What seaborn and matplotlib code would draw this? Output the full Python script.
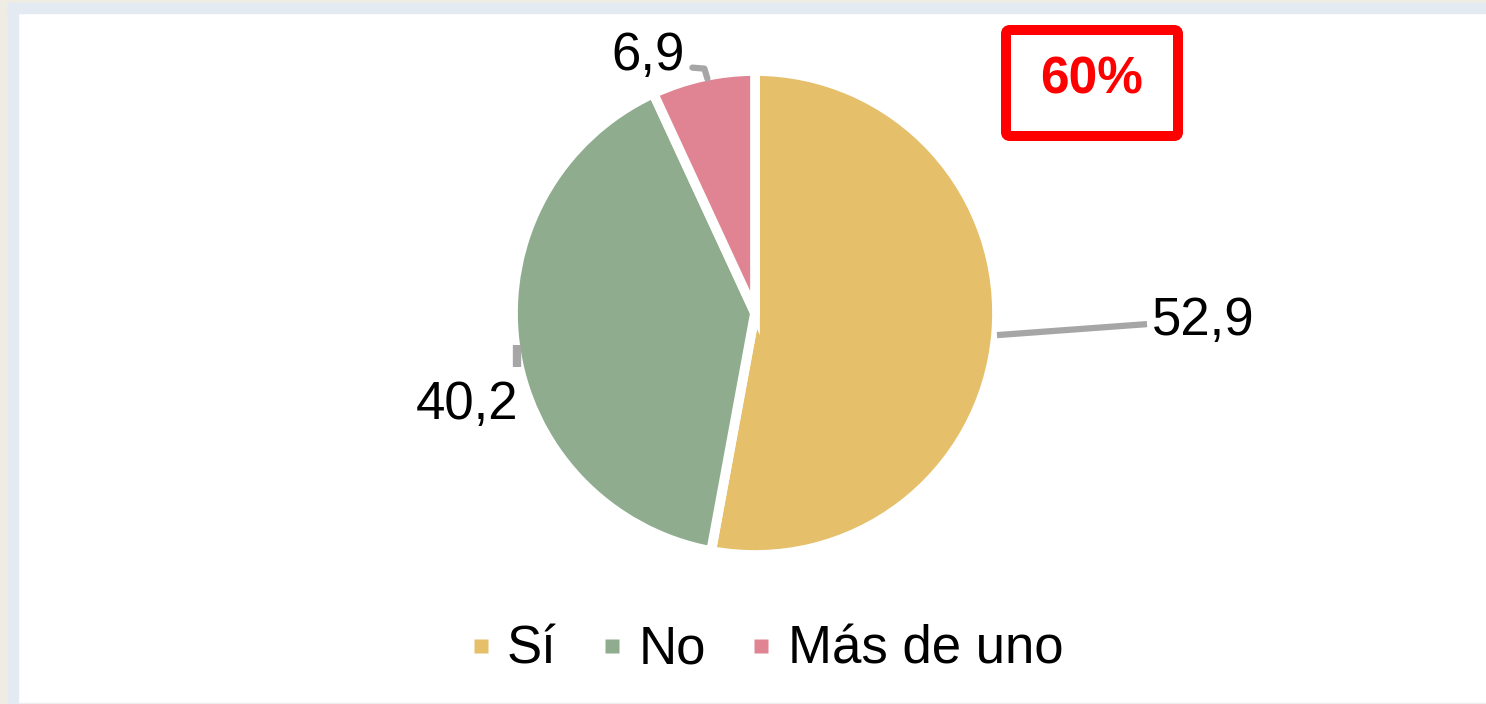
import numpy as np
import matplotlib
matplotlib.use("Agg")
import matplotlib.pyplot as plt
from matplotlib.patches import Rectangle, FancyBboxPatch
from matplotlib.lines import Line2D
import seaborn as sns

categories = ["Sí", "No", "Más de uno"]
values = [52.9, 40.2, 6.9]
value_labels = ["52,9", "40,2", "6,9"]
box_text = "60%"

sns.set_theme(style="white")
plt.rcParams["font.family"] = ["Liberation Sans", "DejaVu Sans"]
plt.rcParams["text.color"] = "black"
colors = sns.color_palette(["#E5BF6A", "#8FAC8F", "#E08493"])

W, H = 1486, 704
fig = plt.figure(figsize=(W / 100, H / 100), dpi=100)
fig.patch.set_facecolor("white")
ax = fig.add_axes([0, 0, 1, 1])
ax.set_xlim(0, W)
ax.set_ylim(0, H)
ax.set_axis_off()

# frame decoration
ax.add_patch(Rectangle((0, 0), 8, H, color="#EFECE4", zorder=0))
ax.add_patch(Rectangle((0, H - 3), W, 3, color="#EFECE4", zorder=0))
ax.add_patch(Rectangle((8, 0), 10, H - 3, color="#E4EAF1", zorder=0))
ax.add_patch(Rectangle((8, H - 13), W - 8, 10, color="#E4EAF1", zorder=0))
ax.add_patch(Rectangle((18, 0), W - 18, 1.5, color="#EEEEEE", zorder=0))

cx, cy, R = 755, H - 313, 242
wedges, _ = ax.pie(values, colors=colors, startangle=90, counterclock=False,
                   center=(cx, cy), radius=R,
                   wedgeprops=dict(edgecolor="white", linewidth=7))
ax.set_xlim(0, W)
ax.set_ylim(0, H)
ax.set_aspect("equal")

# leader lines and labels computed from wedge angles
lc = "#A6A6A6"
mids = [np.deg2rad((w.theta1 + w.theta2) / 2) for w in wedges]
fs_lab = 38
# Sí
a = mids[0]
p0 = (cx + (R + 1) * np.cos(a), cy + (R + 1) * np.sin(a))
p1 = (p0[0] + 150, p0[1] + 11)
ax.plot([p0[0], p1[0]], [p0[1], p1[1]], color=lc, lw=4.5, solid_capstyle="butt", zorder=3)
ax.text(p1[0] + 5, p1[1 ] + 3, value_labels[0], fontsize=fs_lab, ha="left", va="center", color="black")
# No
a = mids[1]
p0 = (cx + (R - 6) * np.cos(a) - 4, cy + (R - 6) * np.sin(a) - 2)
p1 = (p0[0], p0[1] - 22)
ax.plot([p0[0], p1[0]], [p0[1], p1[1]], color=lc, lw=6, solid_capstyle="butt", zorder=3)
ax.text(p0[0] - 50, p1[1] - 38, value_labels[1], fontsize=fs_lab, ha="center", va="center", color="black")
# Más de uno
a = mids[2]
p0 = (cx + (R - 2) * np.cos(a) + 4, cy + (R - 2) * np.sin(a))
p1 = (p0[0] - 3, p0[1] + 10)
p2 = (p1[0] - 12, p1[1] + 1)
ax.plot([p0[0], p1[0], p2[0]], [p0[1], p1[1], p2[1]], color=lc, lw=4.5, solid_joinstyle="round", zorder=3)
ax.text(p2[0] - 44, p2[1] + 12, value_labels[2], fontsize=fs_lab, ha="center", va="center", color="black")

# red box
ax.add_patch(FancyBboxPatch((1006, H - 136), 172, 106,
                            boxstyle="round,pad=0,rounding_size=4",
                            facecolor="white", edgecolor="#FF0000", linewidth=7.2, zorder=4))
ax.text(1092, H - 80, box_text, fontsize=37, fontweight="bold", color="#FF0000",
        ha="center", va="center", zorder=5)

handles = [Line2D([], [], marker="s", linestyle="none", markersize=10,
                  markerfacecolor=c, markeredgecolor="none") for c in colors]
leg = fig.legend(handles, categories, loc="center", bbox_to_anchor=(768 / W, 1 - 650 / H),
                 ncol=3, frameon=False, fontsize=38, handlelength=0.3,
                 handletextpad=0.35, columnspacing=0.9, borderpad=0)
for t in leg.get_texts():
    t.set_color("black")

fig.savefig("out.png", dpi=100, facecolor="white")
